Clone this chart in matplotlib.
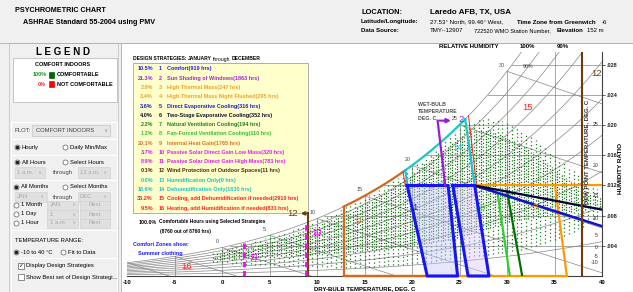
import numpy as np
import matplotlib
matplotlib.use('Agg')
import matplotlib.pyplot as plt
from matplotlib.patches import Rectangle
from matplotlib.lines import Line2D

plt.rcParams['font.family'] = ['Liberation Sans', 'DejaVu Sans']

# ---- data ----
strategy_pct = ['10.5%', '21.3%', '2.8%', '3.4%', '3.6%', '4.0%', '2.2%', '1.3%',
                '20.1%', '3.7%', '8.9%', '0.1%', '0.0%', '18.6%', '33.2%', '9.5%']
strategy_names = ['Comfort(919 hrs)', 'Sun Shading of Windows(1863 hrs)', 'High Thermal Mass(247 hrs)',
                  'High Thermal Mass Night Flushed(295 hrs)', 'Direct Evaporative Cooling(316 hrs)',
                  'Two-Stage Evaporative Cooling(352 hrs)', 'Natural Ventilation Cooling(194 hrs)',
                  'Fan-Forced Ventilation Cooling(110 hrs)', 'Internal Heat Gain(1765 hrs)',
                  'Passive Solar Direct Gain Low Mass(320 hrs)', 'Passive Solar Direct Gain High Mass(783 hrs)',
                  'Wind Protection of Outdoor Spaces(11 hrs)', 'Humidification Only(0 hrs)',
                  'Dehumidification Only(1630 hrs)', 'Cooling, add Dehumidification if needed(2910 hrs)',
                  'Heating, add Humidification if needed(831 hrs)']
strategy_colors = ['#2020e8', '#a028d0', '#f0a030', '#f0a030', '#2020c0', '#101030', '#208020', '#30c030',
                   '#e07020', '#e020e0', '#e020e0', '#4a3008', '#20c0c0', '#20c0c0', '#ff2020', '#ff2020']

# hourly weather cloud, one column per 0.5 C (humidity ratio g/kg)
dot_t = [-1.0, -0.5, 0.0, 0.5, 1.0, 1.5, 2.0, 2.5, 3.0, 3.5, 4.0, 4.5,
         5.0, 5.5, 6.0, 6.5, 7.0, 7.5, 8.0, 8.5, 9.0, 9.5, 10.0, 10.5,
         11.0, 11.5, 12.0, 12.5, 13.0, 13.5, 14.0, 14.5, 15.0, 15.5, 16.0, 16.5,
         17.0, 17.5, 18.0, 18.5, 19.0, 19.5, 20.0, 20.5, 21.0, 21.5, 22.0, 22.5,
         23.0, 23.5, 24.0, 24.5, 25.0, 25.5, 26.0, 26.5, 27.0, 27.5, 28.0, 28.5,
         29.0, 29.5, 30.0, 30.5, 31.0, 31.5, 32.0, 32.5, 33.0, 33.5, 34.0, 34.5,
         35.0, 35.5, 36.0, 36.5, 37.0, 37.5, 38.0, 38.5, 39.0, 39.5]
dot_lo = [1.9, 1.8, 1.7, 1.8, 1.6, 1.7, 1.6, 1.5, 1.6, 1.5, 1.4, 1.5,
          1.4, 1.5, 1.3, 1.4, 1.3, 1.4, 1.2, 1.3, 1.2, 1.3, 1.2, 1.3,
          1.2, 1.3, 1.1, 1.2, 1.1, 1.2, 1.1, 1.2, 1.1, 1.2, 1.2, 1.3,
          1.3, 1.4, 1.4, 1.5, 1.5, 1.6, 1.7, 1.7, 1.8, 1.9, 1.9, 2.0,
          2.1, 2.2, 2.2, 2.3, 2.4, 2.4, 2.5, 2.6, 2.6, 2.7, 2.8, 2.9,
          3.0, 3.1, 3.2, 3.3, 3.4, 3.5, 3.6, 3.8, 4.0, 4.2, 4.4, 4.6,
          4.8, 5.0, 5.3, 5.6, 5.9, 6.2, 6.5, 7.0, 7.5, 8.0]
dot_hi = [3.0, 3.2, 3.6, 3.7, 3.9, 4.0, 4.2, 4.3, 4.5, 4.6, 4.8, 5.0,
          5.2, 5.3, 5.5, 5.7, 5.9, 6.1, 6.4, 6.6, 6.9, 7.1, 7.4, 7.6,
          7.9, 8.2, 8.5, 8.8, 9.1, 9.4, 9.7, 10.0, 10.4, 10.7, 11.1, 11.4,
          11.8, 12.2, 12.6, 13.0, 13.4, 13.9, 14.3, 14.8, 15.3, 15.8, 16.3, 16.8,
          17.4, 17.9, 18.5, 19.1, 19.7, 20.1, 20.4, 20.6, 20.8, 20.9, 20.9, 20.8,
          20.7, 20.5, 20.3, 20.0, 19.7, 19.3, 18.9, 18.5, 18.0, 17.5, 17.0, 16.5,
          16.0, 15.5, 15.0, 14.5, 14.0, 13.5, 13.0, 12.5, 12.0, 11.5]
dense_lo = [2.2, 2.1, 2.2, 2.3, 2.2, 2.4, 2.3, 2.4, 2.5, 2.5, 2.6, 2.6,
            2.6, 2.7, 2.6, 2.7, 2.7, 2.8, 2.7, 2.8, 2.8, 2.9, 2.9, 3.0,
            3.0, 3.0, 3.1, 3.1, 3.2, 3.2, 3.3, 3.3, 3.4, 3.4, 3.5, 3.6,
            3.6, 3.7, 3.8, 3.8, 3.9, 4.0, 4.1, 4.2, 4.3, 4.4, 4.5, 4.6,
            4.7, 4.8, 4.9, 5.0, 5.2, 5.4, 5.6, 5.8, 6.0, 6.2, 6.4, 6.6,
            6.8, 7.0, 7.2, 7.3, 7.4, 7.5, 7.6, 7.7, 7.8, 7.9, 8.0, 8.1,
            8.2, 8.3, 8.4, 8.5, 8.6, 8.7, 8.8, 8.9, 9.0, 9.2]
dense_hi = [2.7, 2.9, 3.2, 3.4, 3.5, 3.6, 3.8, 3.9, 4.0, 4.1, 4.3, 4.5,
            4.6, 4.8, 5.0, 5.2, 5.4, 5.6, 5.8, 6.0, 6.3, 6.5, 6.8, 7.0,
            7.3, 7.6, 7.9, 8.2, 8.5, 8.8, 9.1, 9.4, 9.8, 10.1, 10.5, 10.8,
            11.2, 11.6, 12.0, 12.4, 12.9, 13.3, 13.8, 14.3, 14.8, 15.3, 15.8, 16.3,
            16.8, 17.3, 17.8, 18.3, 18.7, 19.0, 19.2, 19.3, 19.4, 19.4, 19.3, 19.1,
            18.9, 18.6, 18.3, 18.0, 17.6, 17.2, 16.8, 16.4, 16.0, 15.5, 15.0, 14.5,
            14.0, 13.5, 13.0, 12.5, 12.0, 11.6, 11.2, 11.0, 10.8, 10.5]

# comfort zones (dry bulb C, humidity ratio g/kg)
winter_t = [19.5, 21.6, 24.8, 23.8]
winter_w = [12.0, 0.0, 0.0, 12.0]
summer_t = [24.3, 25.9, 28.1, 26.6]
summer_w = [12.0, 0.0, 0.0, 12.0]

xtick_vals = [-10, -5, 0, 5, 10, 15, 20, 25, 30, 35, 40]
ytick_vals = [4, 8, 12, 16, 20, 24, 28]
ytick_labels = ['.004', '.008', '.012', '.016', '.020', '.024', '.028']
dew_vals = [25, 20, 15, 10, 5, 0, -5, -10]
wb_vals = [0, 5, 10, 15, 20, 25, 30]

P = 101.325


def w_rh(t, rh):
    p = rh * 0.61094 * np.exp(17.625 * np.asarray(t) / (np.asarray(t) + 243.04))
    return 622.0 * p / (P - p)


def w_sat(t):
    return w_rh(t, 1.0)


def w_wb(t, twb):
    ws = w_sat(twb) / 1000.0
    return 1000.0 * ((2501 - 2.326 * twb) * ws - 1.006 * (t - twb)) / (2501 + 1.86 * t - 4.186 * twb)


W, H = 633, 292
fig = plt.figure(figsize=(W / 100, H / 100), dpi=100, facecolor='#f0f0f0')


def txt(x, y, s, size=4.2, color='black', weight='normal', ha='left', **kw):
    fig.text(x / W, 1 - y / H, s, fontsize=size, color=color, fontweight=weight, ha=ha, va='center', **kw)


def box(x0, y0, x1, y1, fc='none', ec='#a0a0a0', lw=0.5, z=-1):
    fig.add_artist(Rectangle((x0 / W, 1 - y1 / H), (x1 - x0) / W, (y1 - y0) / H, transform=fig.transFigure,
                             fc=fc, ec=ec, lw=lw, zorder=z))


def radio(x, y, on=False):
    fig.add_artist(Line2D([x / W], [1 - y / H], marker='o', ms=3.6, mfc='white', mec='#606060', mew=0.5,
                          transform=fig.transFigure))
    if on:
        fig.add_artist(Line2D([x / W], [1 - y / H], marker='o', ms=1.6, mfc='#202020', mec='#202020',
                              transform=fig.transFigure))


# ---- header ----
fig.add_artist(Line2D([0, 1], [1 - 43 / H, 1 - 43 / H], color='#b0b0b0', lw=0.6, transform=fig.transFigure))
txt(15, 11, 'PSYCHROMETRIC CHART', 5.2, weight='bold')
txt(23, 22, 'ASHRAE Standard 55-2004 using PMV', 5.2, weight='bold')
txt(361, 12, 'LOCATION:', 5.4, weight='bold')
txt(430, 12, 'Laredo AFB, TX, USA', 5.8, weight='bold')
txt(361, 22, 'Latitude/Longitude:', 4.4, weight='bold')
txt(430, 22, '27.53\u00b0 North, 99.46\u00b0 West,', 4.4)
txt(517, 22, 'Time Zone from Greenwich', 4.4, weight='bold')
txt(602, 22, '-6', 4.4)
txt(361, 31, 'Data Source:', 4.4, weight='bold')
txt(430, 31, 'TMY--12907', 4.4)
txt(474, 31, '722520 WMO Station Number,', 4.1)
txt(557, 31, 'Elevation', 4.3, weight='bold')
txt(587, 31, '152 m', 4.3)

# ---- left panel ----
box(9, 43, 118, 292, fc='#f0f0f0', ec='#c0c0c0', z=-3)
txt(63, 52, 'L E G E N D', 7, weight='bold', ha='center')
box(13, 58, 117, 102, fc='white', ec='#b0b0b0', z=-2)
txt(63, 65, 'COMFORT INDOORS', 4.0, weight='bold', ha='center')
txt(47, 75, '100%', 4.0, color='#1a9a1a', weight='bold', ha='right')
box(49, 72, 54, 78, fc='#006400', ec='#006400', z=1)
txt(57, 75, 'COMFORTABLE', 4.0, weight='bold')
txt(46, 84, '0%', 4.0, color='#ff2020', weight='bold', ha='right')
box(49, 81, 54, 87, fc='#ff0000', ec='#ff0000', z=1)
txt(57, 84, 'NOT COMFORTABLE', 4.0, weight='bold')

for y0, y1 in [(122, 139), (139, 155), (155, 180), (180, 230), (230, 258), (258, 292)]:
    box(11, y0, 117, y1, fc='#f0f0f0', ec='white', lw=0.8, z=-2)

gtxt = '#a8a8a8'
txt(15, 130, 'PLOT:', 4.2, color='#404040')
box(32, 125, 110, 136, fc='#e6e6e6', ec='#c4c4c4', z=1)
txt(36, 130, 'COMFORT INDOORS', 4.2, color='#404040')
txt(106, 130, 'v', 3.6, color='#808080', ha='center')
radio(17, 147, True)
txt(22, 147, 'Hourly', 4.2)
radio(65, 147)
txt(70, 147, 'Daily Min/Max', 4.2)
radio(17, 162, True)
txt(22, 162, 'All Hours', 4.2)
radio(65, 162)
txt(70, 162, 'Select Hours', 4.2)
for (x0, x1, s) in [(15, 45, '1 a.m.'), (78, 110, '12 a.m.')]:
    box(x0, 167, x1, 178, fc='#e0e0e0', ec='#d4d4d4', z=1)
    txt(x0 + 2, 172.5, s, 4.2, color=gtxt)
    txt(x1 - 5, 172.5, 'v', 3.4, color=gtxt, ha='center')
txt(53, 172.5, 'through', 4.2, color='#404040')
radio(16, 187, True)
txt(21, 187, 'All Months', 4.2)
radio(65, 187)
txt(70, 187, 'Select Months', 4.2)
for (x0, x1, s) in [(15, 47, 'JAN'), (78, 110, 'DEC')]:
    box(x0, 192, x1, 202, fc='#e0e0e0', ec='#d4d4d4', z=1)
    txt(x0 + 2, 197, s, 4.2, color=gtxt)
    txt(x1 - 5, 197, 'v', 3.4, color=gtxt, ha='center')
txt(53, 197, 'through', 4.2, color='#404040')
for y, lab, sel in [(205, '1 Month', 'JAN'), (214, '1 Day', '1'), (223, '1 Hour', '1 a.m.')]:
    radio(16, y)
    txt(21, y, lab, 4.2)
    box(47, y - 4.5, 78, y + 4.5, fc='#e0e0e0', ec='#d4d4d4', z=1)
    txt(50, y, sel, 4.2, color=gtxt)
    txt(74, y, 'v', 3.4, color=gtxt, ha='center')
    box(80, y - 4.5, 110, y + 4.5, fc='#e0e0e0', ec='#d4d4d4', z=1)
    txt(95, y, 'Next', 4.2, color=gtxt, ha='center')
txt(15, 240, 'TEMPERATURE RANGE:', 4.2)
radio(16, 252, True)
txt(21, 252, '-10 to 40 \u00b0C', 4.2)
radio(63, 252)
txt(68, 252, 'Fit to Data', 4.2)
box(18, 263, 24, 269, fc='white', ec='#606060', z=1)
txt(21, 266, '\u2713', 4.2, ha='center', family='DejaVu Sans')
txt(26, 266, 'Display Design Strategies', 4.2)
box(18, 274, 24, 280, fc='white', ec='#606060', z=1)
txt(26, 277, 'Show Best set of Design Strategi...', 4.2)

# ---- main panel ----
box(121, 43, 633, 292, fc='white', ec='#a0a0a0', z=-3)
box(133, 63, 308, 213, fc='#ffffcc', ec='#909090', z=-2)
txt(133, 59, 'DESIGN STRATEGIES:', 3.6, weight='bold')
txt(188, 59, 'JANUARY', 3.6, weight='bold')
txt(213, 59, 'through', 3.6)
txt(232, 59, 'DECEMBER', 3.6, weight='bold')
for i in range(16):
    y = 69 + i * 9.27
    c = strategy_colors[i]
    txt(153, y, strategy_pct[i], 4.0, color=c, weight='bold', ha='right')
    txt(159, y, str(i + 1), 4.0, color=c, weight='bold')
    txt(167, y, strategy_names[i], 4.0, color=c, weight='bold')
txt(157, 222, '100.0%', 3.8, weight='bold', ha='right')
txt(159, 222, 'Comfortable Hours using Selected Strategies', 3.5, weight='bold')
txt(160, 231, '(8760 out of 8760 hrs)', 3.5, weight='bold')
txt(133, 245, 'Comfort Zones show:', 3.9, color='#1a1aff', weight='bold')
txt(138, 254, 'Summer clothing', 3.9, color='#1a1aff', weight='bold')

# ---- psychrometric chart ----
ax = fig.add_axes([127 / W, 16 / H, 475 / W, 224 / H])
ax.patch.set_visible(False)
ax.set_xlim(-10, 40)
ax.set_ylim(0, 29.7)
grey = '#858585'
tt = np.linspace(-10, 40, 300)
for rh in [0.1, 0.2, 0.3, 0.4, 0.5, 0.6, 0.7, 0.8, 0.9, 1.0]:
    ax.plot(tt, w_rh(tt, rh), color=grey, lw=0.5, zorder=1)
for twb in range(-10, 31, 5):
    t2 = np.linspace(twb, 40, 60)
    ax.plot(t2, w_wb(t2, twb), color=grey, lw=0.5, zorder=1)
for tv in range(-5, 40, 5):
    ax.plot([tv, tv], [0, w_sat(tv)], color=grey, lw=0.5, zorder=1)
for wv in ytick_vals:
    ax.plot([np.interp(wv, w_sat(tt), tt), 40], [wv, wv], color=grey, lw=0.5, zorder=1)
for twb in wb_vals:
    ax.text(twb - 0.5, w_sat(twb) + 0.5, str(twb), fontsize=3.8, color='#404040', ha='center', va='bottom')
for dv in dew_vals:
    ax.text(39.6, w_sat(dv), str(dv), fontsize=3.8, color='#303030', ha='right', va='center')
ax.text(32.2, 27.8, '90%', fontsize=3.8, color='#404040', ha='center', va='center')

# weather hours
ax.vlines(dot_t, dot_lo, dot_hi, colors='#1f7f1f', lw=0.9, linestyles=[(0, (1, 2))], zorder=2)
ax.vlines([t + 0.24 for t in dot_t], dense_lo, dense_hi, colors='#086408', lw=0.9,
          linestyles=[(0, (1, 1.1))], zorder=2)

# design strategy boundaries
c_comf, c_shade, c_mass = '#1414ff', '#9a1ecf', '#ff9900'
c_evap, c_evap2, c_nat, c_fan = '#1010d0', '#000038', '#007000', '#33cc33'
c_heat, c_solar, c_wind, c_dehum, c_red = '#d2691e', '#ff00ff', '#6b3c0c', '#19c8c8', '#ff2020'

ax.fill(winter_t, winter_w, color='#c8c8ff', alpha=0.45, lw=0, zorder=3)
ax.fill(summer_t, summer_w, color='#dcc8ff', alpha=0.45, lw=0, zorder=3)
ax.plot([12.8, 36.3], [0, 0], color=c_mass, lw=1.6, zorder=4, clip_on=False)
ax.plot([12.8, 21.6], [0, 0], color=c_heat, lw=1.6, zorder=4, clip_on=False)
ax.plot([12.8, 12.8], [0, w_sat(12.8)], color=c_heat, lw=1.6, zorder=4)
th = np.linspace(12.8, 19.3, 40)
ax.plot(th, w_sat(th), color=c_heat, lw=1.6, zorder=4)
td = np.linspace(19.3, 25.6, 40)
ax.plot(td, w_sat(td), color=c_dehum, lw=1.6, zorder=4)
ax.plot([25.6, 26.6], [w_sat(25.6), 12], color=c_dehum, lw=1.6, zorder=4)
ax.plot([19.3, 19.5], [w_sat(19.3), 12], color=c_dehum, lw=1.6, zorder=4)
ax.plot([25.95, 26.8], [w_sat(25.95), 12], color=c_red, lw=0.7, zorder=4)
ax.plot([19.05, 19.3], [w_sat(19.05), 12], color=c_red, lw=0.7, zorder=4)
ax.plot([26.6, 40], [12, 12], color=c_mass, lw=1.6, zorder=4)
ax.plot([35.05, 36.3], [12, 0], color=c_mass, lw=1.6, zorder=4)
ax.plot([29.0, 30.3], [11.0, 0], color=c_fan, lw=1.6, zorder=4)
ax.plot([30.0, 31.6], [11.3, 0], color=c_nat, lw=1.6, zorder=4)
ax.plot([26.6, 40], [12, 6.6], color=c_evap, lw=1.8, zorder=5)
ax.plot([26.6, 40], [12, 8.8], color=c_evap2, lw=1.6, zorder=5)
ax.plot(winter_t + winter_t[:1], winter_w + winter_w[:1], color=c_comf, lw=2.2, zorder=6, clip_on=False)
ax.plot(summer_t + summer_t[:1], summer_w + summer_w[:1], color=c_comf, lw=2.2, zorder=6, clip_on=False)
ax.plot([23.5, 22.7], [12, 20.6], color=c_shade, lw=1.6, zorder=6)
ax.annotate('', xy=(24.4, 20.6), xytext=(22.6, 20.6),
            arrowprops=dict(arrowstyle='-|>', color=c_shade, lw=1.5, mutation_scale=6), zorder=6)
ax.plot([37.9, 37.9], [0, 29.7], color=c_wind, lw=1.5, zorder=5)
ax.plot([9.05, 9.05], [0, 8.3], color=c_wind, lw=1.5, zorder=5)
ax.annotate('', xy=(8.0, 8.3), xytext=(9.15, 8.3),
            arrowprops=dict(arrowstyle='-|>', color=c_wind, lw=1.3, mutation_scale=5), zorder=6)
for ts in [2.3, 8.85]:
    ax.plot([ts, ts], [0, w_sat(ts)], color=c_solar, lw=2.0, dashes=(2, 1.3), zorder=5)

lab = dict(fontsize=6.8, ha='center', va='center', zorder=7)
ax.text(20.3, 9.1, '1', color=c_comf, **lab)
ax.text(25.2, 20.8, '2', color=c_shade, **lab)
ax.text(33.0, 9.1, '3', color=c_mass, **lab)
ax.text(27.4, 9.1, '8', color='#30c030', **lab)
ax.text(14.3, 7.2, '9', color=c_heat, **lab)
ax.text(10.0, 5.8, '10', color=c_solar, **lab)
ax.text(3.4, 2.4, '11', color=c_solar, **lab)
ax.text(7.4, 8.3, '12', color=c_wind, **lab)
ax.text(39.4, 26.9, '12', color=c_wind, **lab)
ax.text(24.8, 17.1, '14', color=c_dehum, **lab)
ax.text(32.2, 22.3, '15', color=c_red, **lab)
ax.text(-3.7, 1.3, '16', color=c_red, **lab)

for s in ['top', 'left']:
    ax.spines[s].set_visible(False)
ax.spines['bottom'].set_color('#404040')
ax.spines['right'].set_color('#404040')
ax.spines['right'].set_linewidth(0.8)
ax.set_xticks(xtick_vals)
ax.set_xticklabels([str(v) for v in xtick_vals], fontsize=4.3, fontweight='bold')
ax.tick_params(axis='x', length=0, pad=3)
ax.yaxis.tick_right()
ax.set_yticks(ytick_vals)
ax.set_yticklabels(ytick_labels, fontsize=4.0, fontweight='bold')
ax.tick_params(axis='y', length=2, width=0.5, pad=1, colors='#202020')
ax.set_xlabel('DRY-BULB TEMPERATURE, DEG. C', fontsize=4.3, fontweight='bold', labelpad=0.8)

txt(469, 47, 'RELATIVE HUMIDITY', 4.3, weight='bold', ha='center')
txt(527, 47, '100%', 4.3, weight='bold', ha='center')
txt(563, 47, '90%', 4.3, weight='bold', ha='center')
txt(418, 104, 'WET-BULB', 3.8, color='#505050', weight='bold')
txt(418, 111, 'TEMPERATURE', 3.8, color='#505050', weight='bold')
txt(418, 119, 'DEG. C', 3.8, color='#505050', weight='bold')
fig.text(587 / W, 1 - 152 / H, 'DEW POINT TEMPERATURE, DEG. C', fontsize=4.3, fontweight='bold',
         color='#303030', rotation=90, ha='center', va='center')
fig.text(620 / W, 1 - 168 / H, 'HUMIDITY RATIO', fontsize=4.6, fontweight='bold',
         rotation=90, ha='center', va='center')

fig.savefig('out.png', dpi=100, facecolor=fig.get_facecolor())
